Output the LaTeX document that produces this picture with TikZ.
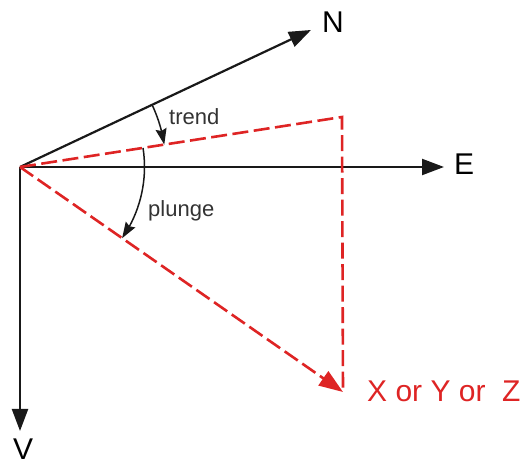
\documentclass[tikz,border=0pt]{standalone}
\usepackage{fontspec}
\setmainfont{Liberation Sans}
\usetikzlibrary{arrows.meta,bending}
\definecolor{vecred}{RGB}{222,36,36}

\begin{document}
\begin{tikzpicture}[
    x=1pt, y=1pt,
    axis/.style={-{Triangle[length=22pt,width=16pt]}, line width=2.2pt, black!90},
    proj/.style={vecred, line width=2.6pt, dash pattern=on 16pt off 5.5pt},
    angarc/.style={-{Stealth[length=16pt,width=11pt,inset=2pt]}, line width=1.5pt, black!90},
    axlabel/.style={font=\fontsize{30}{34}\selectfont, inner sep=0pt},
    anglabel/.style={font=\fontsize{22}{26}\selectfont, inner sep=0pt, black!80}
]
\useasboundingbox (0,0) rectangle (522,468);

\coordinate (o) at (20,301);
\coordinate (ntip) at (311,438);
\coordinate (etip) at (444,301);
\coordinate (vtip) at (20,37);
\coordinate (p) at (342,351);
\coordinate (q) at (343,76);

% axes
\draw[axis] (o) -- (ntip);
\draw[axis] (o) -- (etip);
\draw[axis] (o) -- (vtip);

\node[axlabel, anchor=base west] (nlab) at (322,435) {N};
\node[axlabel, anchor=base west] (elab) at (454,293) {E};
\node[axlabel, anchor=base west] (vlab) at (13,8) {V};

% projections of the vector
\draw[proj] (o) -- (p) -- (q);
\draw[proj, -{Triangle[length=24pt,width=17pt]}] (o) -- (q);
\node[axlabel, vecred, anchor=base west] (xyz) at (367,66) {X or Y or\ \ Z};

% angles
\draw[angarc] (o) ++(25.2:146) arc[start angle=25.2, end angle=8.8, radius=146];
\draw[angarc] (o) ++(8.8:124.5) arc[start angle=8.8, end angle=-34.9, radius=124.5];

\node[anglabel, anchor=base west] (trend) at (169,343) {trend};
\node[anglabel, anchor=base west] (plunge) at (148,251) {plunge};
\end{tikzpicture}
\end{document}
